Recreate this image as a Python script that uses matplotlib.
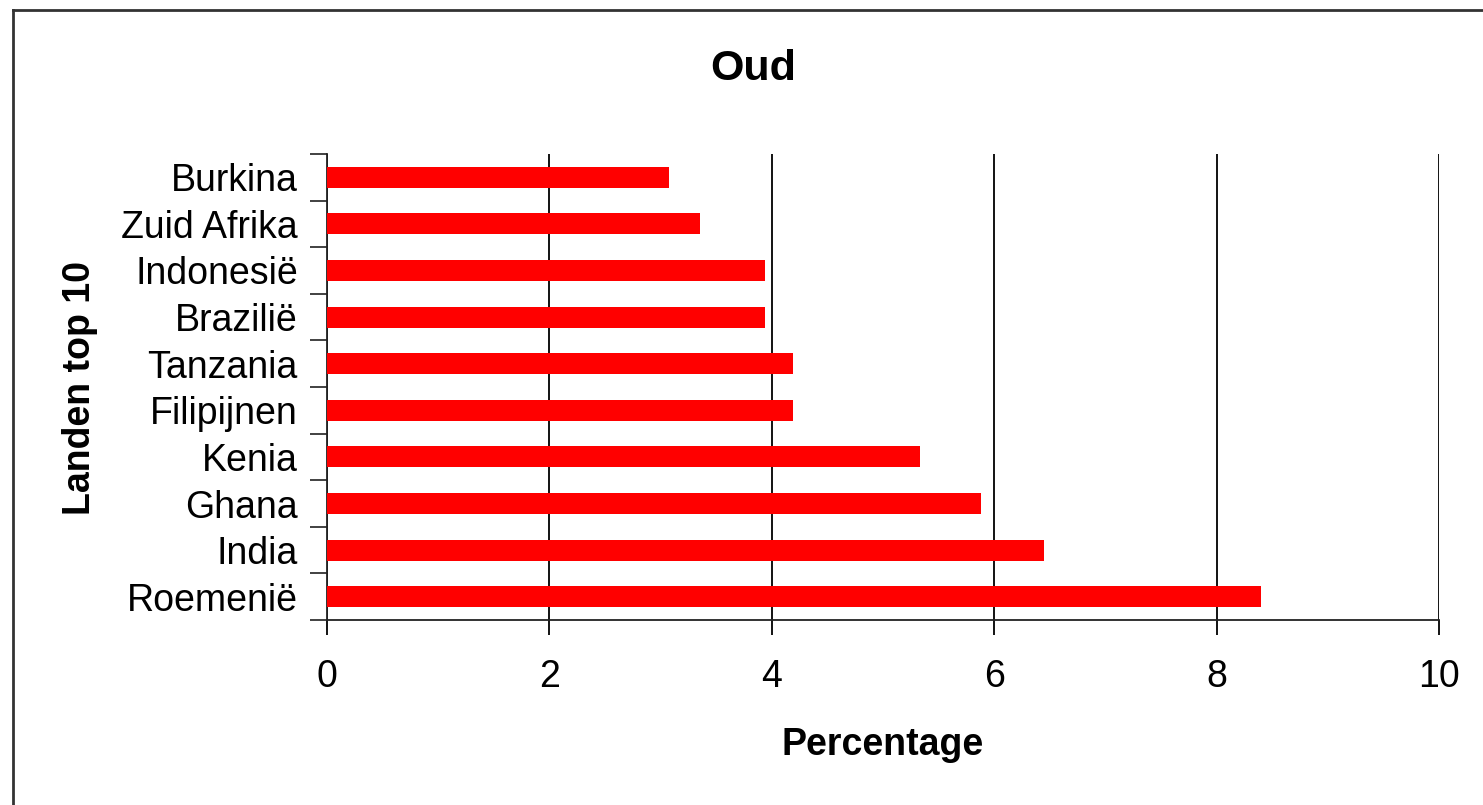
import matplotlib.pyplot as plt
from matplotlib.lines import Line2D
import numpy as np

plt.rcParams['font.family'] = ['Liberation Sans', 'DejaVu Sans']

# data, bottom to top
landen = ['Roemenië', 'India', 'Ghana', 'Kenia', 'Filipijnen',
          'Tanzania', 'Brazilië', 'Indonesië', 'Zuid Afrika', 'Burkina']
percentage = [8.40, 6.45, 5.88, 5.33, 4.19, 4.19, 3.94, 3.94, 3.35, 3.08]

fig = plt.figure(figsize=(14.83, 8.05), dpi=100)
ax = fig.add_axes([327 / 1483, 1 - 620 / 805, (1439 - 327) / 1483, (620 - 154) / 805])

y = np.arange(len(landen))
ax.barh(y, percentage, height=0.45, color='#ff0000', zorder=3)

ax.set_xlim(0, 10)
ax.set_ylim(-0.5, len(landen) - 0.5)
ax.set_xticks([0, 2, 4, 6, 8, 10])
ax.set_yticks(y)
ax.set_yticklabels(landen)
ax.set_yticks(np.arange(-0.5, len(landen), 1), minor=True)

ax.grid(axis='x', color='black', linewidth=1.3, zorder=1)
ax.tick_params(axis='x', labelsize=27, length=11, width=1.3, pad=17, direction='out')
ax.tick_params(axis='y', which='major', labelsize=27, length=0, pad=21)
ax.tick_params(axis='y', which='minor', length=12, width=1.3, color='#333333', direction='out')

for s in ['top', 'right']:
    ax.spines[s].set_visible(False)
for s in ['left', 'bottom']:
    ax.spines[s].set_linewidth(1.3)
    ax.spines[s].set_color('#222222')

ax.set_xlabel('Percentage', fontsize=27, fontweight='bold', labelpad=23)
fig.text(80 / 1483, 1 - 388 / 805, 'Landen top 10', fontsize=27, fontweight='bold',
         rotation=90, ha='center', va='center')
fig.text(753 / 1483, 1 - 69 / 805, 'Oud', fontsize=31, fontweight='bold',
         ha='center', va='center')

# outer chart frame (left and top edges visible)
fig.add_artist(Line2D([13 / 1483, 13 / 1483], [0, 1 - 10 / 805], transform=fig.transFigure,
                      color='#333333', linewidth=2))
fig.add_artist(Line2D([13 / 1483, 1], [1 - 10 / 805, 1 - 10 / 805], transform=fig.transFigure,
                      color='#333333', linewidth=2))

fig.savefig('out.png', dpi=100)
